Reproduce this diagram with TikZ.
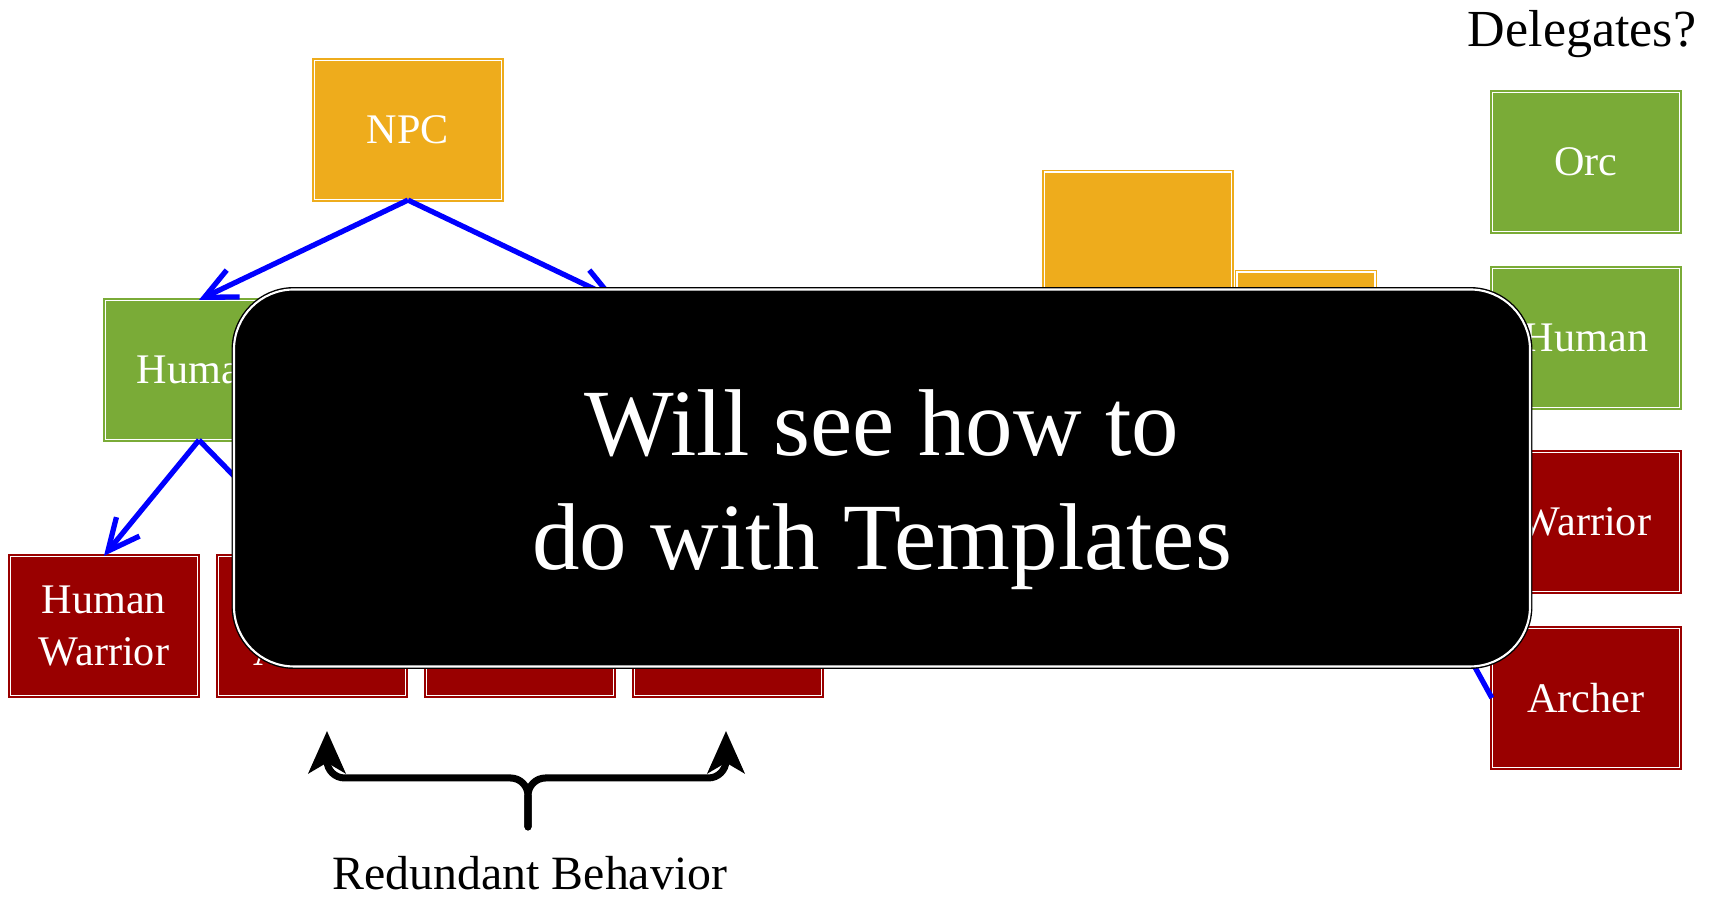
\documentclass[tikz,border=0pt]{standalone}
\usepackage{fontspec}
\setmainfont{Liberation Serif}
\usetikzlibrary{arrows.meta}
\definecolor{npcorange}{RGB}{238,172,28}
\definecolor{racegreen}{RGB}{122,171,55}
\definecolor{classred}{RGB}{153,0,0}
\tikzset{
  box/.style={draw=#1, fill=#1, double=white, double distance=0.5pt, line width=0.35pt,
    minimum width=1.87cm, minimum height=1.39cm, inner sep=0pt, text=white,
    font=\fontsize{12}{14.8}\selectfont, align=center},
  isa/.style={draw=blue, line width=1.5pt, -{Straight Barb[length=9pt,width=8.5pt]}},
  link/.style={draw=blue, line width=1.5pt},
  panel/.style={draw=black, double=white, double distance=0.6pt, line width=0.4pt,
    fill=black, rounded corners=0.6cm, minimum width=12.96cm, minimum height=3.77cm},
  brace/.style={line width=2pt, rounded corners=5pt, line cap=round,
    -{Stealth[length=12pt,width=10.5pt,inset=3pt]}}
}

\begin{document}
\begin{tikzpicture}
\useasboundingbox (0,0) rectangle (17.19,8.99);
\node[box=npcorange] (npc) at (4.08,7.69) {NPC};
\node[box=racegreen] (human) at (1.99,5.29) {Human};
\node[box=racegreen] (orc) at (6.17,5.29) {};
\foreach \n/\cx/\txt in {hwarrior/1.04/{Human\\Warrior}, harcher/3.12/{Human\\Archer},
                          owarrior/5.20/{}, oarcher/7.28/{}}
  \node[box=classred] (\n) at (\cx,2.73) {\txt};
\draw[isa] (npc.south) -- (human.north);
\draw[isa] (npc.south) -- (orc.north);
\draw[isa] (human.south) -- (hwarrior.north);
\draw[isa] (human.south) -- (harcher.north);
\node[box=npcorange] (delegate) at (11.38,6.575) {};
\node[box=npcorange, minimum width=1.38cm] (smalldelegate) at (13.06,5.575) {};
\foreach \n/\c/\cy/\txt in {rorc/racegreen/7.37/Orc, rhuman/racegreen/5.61/Human,
                            rwarrior/classred/3.77/Warrior, rarcher/classred/2.01/Archer}
  \node[box=\c] (\n) at (15.86,\cy) {\txt};
\coordinate (via) at (14.38,2.99);
\draw[link] (via) -- (rarcher.west);
\node[panel] (panel) at (8.82,4.21) {};
\node[text=white, align=center, font=\fontsize{27}{32.5}\selectfont] (msg)
  at ([yshift=-1.2mm]panel.center) {Will see how to\\do with Templates};
\node[anchor=base, font=\fontsize{14.8}{17}\selectfont] (delegates) at (15.82,8.52) {Delegates?};
\coordinate (spike) at (5.28,0.72);
\coordinate (lefttip) at (3.27,1.68);
\coordinate (righttip) at (7.26,1.68);
\draw[brace] (spike) -- ++(0,0.49) -| (lefttip);
\draw[brace] (spike) -- ++(0,0.49) -| (righttip);
\node[anchor=base, font=\fontsize{13.6}{16}\selectfont] (redundant) at (5.30,0.09) {Redundant Behavior};
\end{tikzpicture}
\end{document}
